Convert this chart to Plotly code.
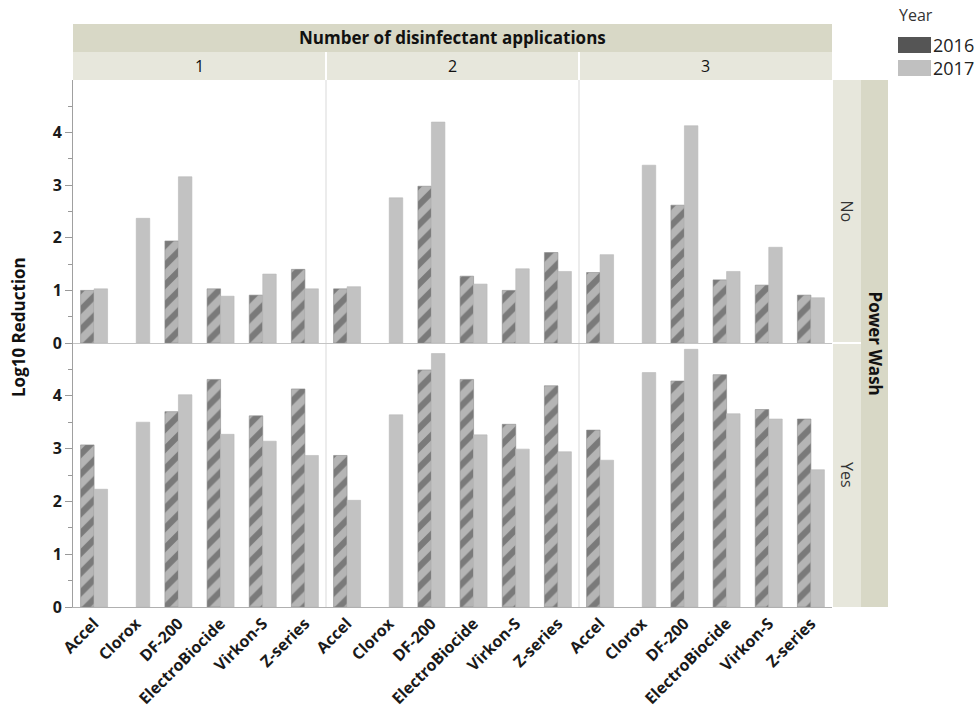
import plotly.graph_objects as go

# ---------------- data ----------------
products = ["Accel", "Clorox", "DF-200", "ElectroBiocide", "Virkon-S", "Z-series"]
applications = ["1", "2", "3"]
power_wash = ["No", "Yes"]
years = ["2016", "2017"]
y_ticks = [0, 1, 2, 3, 4]
y_minor = [0.5, 1.5, 2.5, 3.5, 4.5]

no_2016_app1 = [1.00, None, 1.94, 1.03, 0.91, 1.40]
no_2017_app1 = [1.03, 2.37, 3.16, 0.89, 1.31, 1.03]
no_2016_app2 = [1.03, None, 2.98, 1.27, 1.00, 1.72]
no_2017_app2 = [1.07, 2.76, 4.20, 1.12, 1.41, 1.36]
no_2016_app3 = [1.34, None, 2.62, 1.20, 1.10, 0.91]
no_2017_app3 = [1.68, 3.38, 4.13, 1.36, 1.82, 0.86]

yes_2016_app1 = [3.07, None, 3.70, 4.31, 3.62, 4.13]
yes_2017_app1 = [2.23, 3.50, 4.02, 3.27, 3.14, 2.87]
yes_2016_app2 = [2.87, None, 4.49, 4.31, 3.46, 4.19]
yes_2017_app2 = [2.02, 3.64, 4.80, 3.26, 2.99, 2.94]
yes_2016_app3 = [3.35, None, 4.28, 4.40, 3.74, 3.56]
yes_2017_app3 = [2.78, 4.44, 4.88, 3.66, 3.56, 2.60]

series = {
    ("No", "1"): (no_2016_app1, no_2017_app1),
    ("No", "2"): (no_2016_app2, no_2017_app2),
    ("No", "3"): (no_2016_app3, no_2017_app3),
    ("Yes", "1"): (yes_2016_app1, yes_2017_app1),
    ("Yes", "2"): (yes_2016_app2, yes_2017_app2),
    ("Yes", "3"): (yes_2016_app3, yes_2017_app3),
}

# ---------------- layout geometry (pixels) ----------------
W, H = 979, 712
FONT = "Open Sans"
col_px = [(73, 326), (326, 579), (579, 832)]
row_px = [(80, 343), (343, 607)]

def px(x):
    return x / W

def py(y):
    return 1 - y / H

C16_BG = "#b5b5b5"
C16_FG = "#404040"
C17 = "#c2c2c2"
HDR_DARK = "#d8d8c6"
HDR_LIGHT = "#e7e7dc"

fig = go.Figure()
layout = {}

for r, pw in enumerate(power_wash):
    for c, app in enumerate(applications):
        idx = r * 3 + c + 1
        xa = "x" if idx == 1 else f"x{idx}"
        ya = "y" if idx == 1 else f"y{idx}"
        v16, v17 = series[(pw, app)]
        fig.add_trace(go.Bar(
            x=products, y=v16, name="2016", xaxis=xa, yaxis=ya, showlegend=False,
            marker=dict(color=C16_BG, line=dict(color="#8c8c8c", width=0.6),
                        pattern=dict(shape="/", fgcolor=C16_FG, bgcolor=C16_BG,
                                     size=14, solidity=0.45)),
        ))
        fig.add_trace(go.Bar(
            x=products, y=v17, name="2017", xaxis=xa, yaxis=ya, showlegend=False,
            marker=dict(color=C17, line=dict(color="#b8b8b8", width=0.6)),
        ))
        x0, x1 = col_px[c]
        y0, y1 = row_px[r]
        layout["xaxis" if idx == 1 else f"xaxis{idx}"] = dict(
            domain=[px(x0), px(x1)], anchor=ya, type="category",
            categoryorder="array", categoryarray=products,
            showticklabels=(r == 1), tickangle=-45, automargin=False,
            tickfont=dict(family=FONT, size=16, color="#1a1a1a", weight="bold"),
            showline=True, linecolor="#c4c4c4" if r == 0 else "#b0b0b0", linewidth=1,
            ticks="", showgrid=False, zeroline=False, fixedrange=True,
        )
        layout["yaxis" if idx == 1 else f"yaxis{idx}"] = dict(
            domain=[py(y1), py(y0)], anchor=xa, range=[0, 5], automargin=False,
            tickmode="array", tickvals=y_ticks,
            showticklabels=(c == 0), ticks="outside" if c == 0 else "",
            ticklen=7, tickcolor="#999999", tickwidth=1,
            minor=dict(tickmode="array", tickvals=y_minor, ticks="outside" if c == 0 else "",
                       ticklen=4, tickcolor="#999999", tickwidth=1),
            tickfont=dict(family=FONT, size=16, color="#1a1a1a", weight="bold"),
            showline=(c == 0), linecolor="#a0a0a0", linewidth=1,
            showgrid=False, zeroline=False, fixedrange=True,
        )

shapes = []
annotations = []

def rect(x0, y0, x1, y1, fill, line=None):
    shapes.append(dict(type="rect", xref="paper", yref="paper",
                       x0=px(x0), x1=px(x1), y0=py(y1), y1=py(y0),
                       fillcolor=fill, line=dict(width=0) if line is None else line,
                       layer="below"))

def vline(x, y0, y1, color, width=1, layer="below"):
    shapes.append(dict(type="line", xref="paper", yref="paper",
                       x0=px(x), x1=px(x), y0=py(y0), y1=py(y1),
                       line=dict(color=color, width=width), layer=layer))

def hline(y, x0, x1, color, width=1, layer="below"):
    shapes.append(dict(type="line", xref="paper", yref="paper",
                       x0=px(x0), x1=px(x1), y0=py(y), y1=py(y),
                       line=dict(color=color, width=width), layer=layer))

def text(x, y, s, size=15, bold=False, angle=0, color="#111111", xanchor="center"):
    annotations.append(dict(xref="paper", yref="paper", x=px(x), y=py(y), text=s,
                            showarrow=False, textangle=angle, xanchor=xanchor, yanchor="middle",
                            font=dict(family=FONT, size=size, color=color,
                                      weight="bold" if bold else "normal")))

# top header
rect(73, 24, 832, 52, HDR_DARK)
rect(73, 52, 832, 80, HDR_LIGHT)
for xb in (326, 579):
    vline(xb, 52, 80, "#ffffff", 2)
text((73 + 832) / 2, 38, "Number of disinfectant applications", size=17, bold=True)
for c, app in enumerate(applications):
    text((col_px[c][0] + col_px[c][1]) / 2, 66, app, size=16)

# right strips
rect(833, 80, 861, 607, HDR_LIGHT)
rect(861, 80, 888, 607, HDR_DARK)
hline(343, 833, 861, "#ffffff", 2)
for r, pw in enumerate(power_wash):
    text(847, (row_px[r][0] + row_px[r][1]) / 2, pw, size=16, angle=90, color="#333333")
text(874.5, 343, "Power Wash", size=17, bold=True, angle=90)

# panel separators
for xb in (326, 579):
    vline(xb, 80, 607, "#d9d9d9", 1)

# y title
text(18, 327, "Log10 Reduction", size=17, bold=True, angle=-90)

# legend
text(897, 15, "Year", size=16, color="#333333", xanchor="left")
rect(898, 37, 931, 53, "#555555")
rect(898, 60, 931, 76, "#c0c0c0")
text(931, 45, years[0], size=18, color="#222222", xanchor="left")
text(931, 68, years[1], size=18, color="#222222", xanchor="left")

layout.update(dict(
    width=W, height=H, margin=dict(l=0, r=0, t=0, b=0, autoexpand=False),
    paper_bgcolor="white", plot_bgcolor="rgba(0,0,0,0)",
    barmode="group", bargap=0.36, bargroupgap=0,
    showlegend=False, shapes=shapes, annotations=annotations,
    font=dict(family=FONT),
))
fig.update_layout(**layout)
fig.write_html("out.html")
